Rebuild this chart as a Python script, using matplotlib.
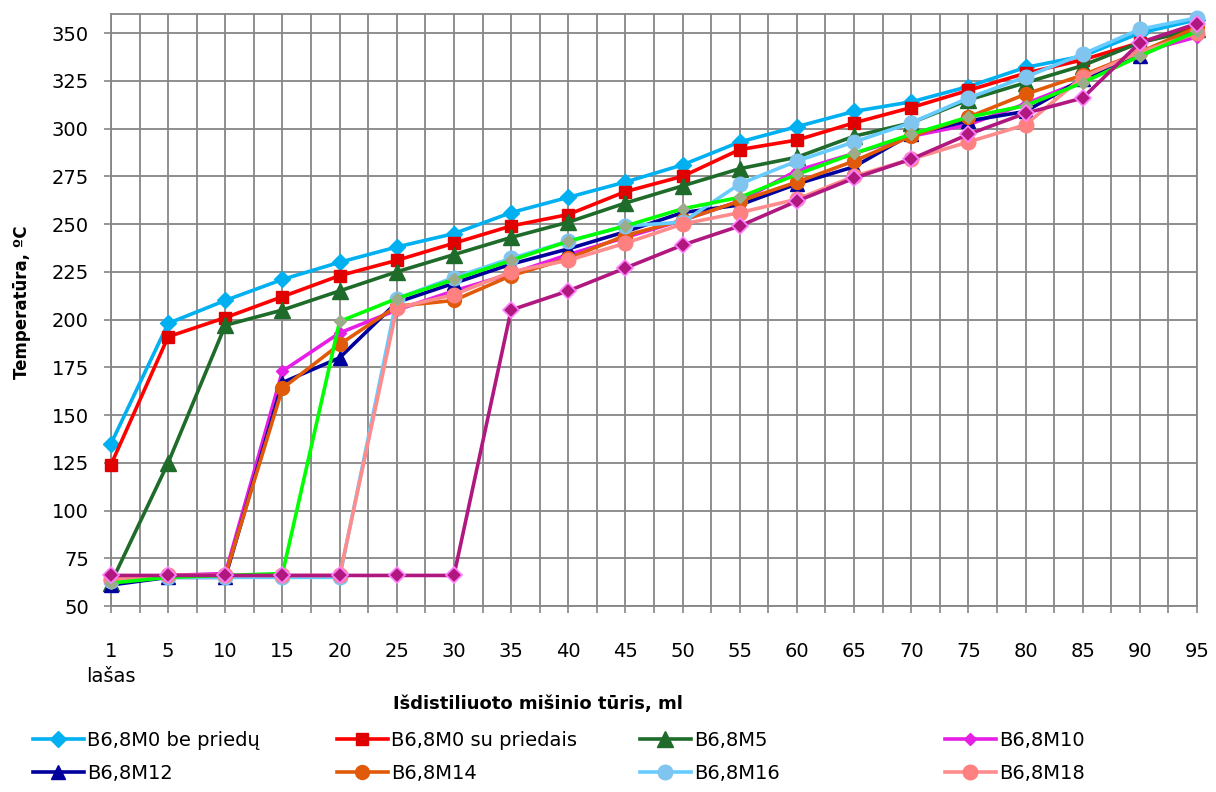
import matplotlib
matplotlib.use("Agg")
import matplotlib.pyplot as plt
import numpy as np

plt.rcParams['font.family'] = ['DejaVu Sans']

categories = ['1', '5', '10', '15', '20', '25', '30', '35', '40', '45',
              '50', '55', '60', '65', '70', '75', '80', '85', '90', '95']

m0_be = [135, 198, 210, 221, 230, 238, 245, 256, 264, 272, 281, 293, 301, 309, 314, 322, 332, 338, 350, 357]
m0_su = [124, 191, 201, 212, 223, 231, 240, 249, 255, 267, 275, 289, 294, 303, 311, 320, 329, 336, 345, 353]
m5 = [62, 125, 197, 205, 215, 225, 234, 243, 251, 261, 270, 279, 285, 296, 303, 315, 324, 333, 345, 352]
m10 = [65, 66, 67, 173, 193, 205, 215, 224, 234, 243, 252, 262, 278, 287, 296, 302, 313, 325, 340, 348]
m12 = [61, 65, 65, 167, 180, 209, 219, 229, 237, 246, 256, 260, 271, 280, 297, 304, 309, 326, 338, 352]
m14 = [64, 66, 66, 164, 187, 207, 210, 223, 232, 244, 252, 262, 272, 283, 296, 306, 318, 328, 340, 353]
m16 = [63, 65, 65, 65, 65, 211, 222, 232, 241, 249, 251, 271, 283, 293, 303, 316, 327, 339, 352, 358]
m18 = [64, 66, 66, 66, 66, 206, 213, 225, 231, 240, 250, 256, 263, 275, 284, 293, 302, 327, 340, 350]
m_green = [62, 65, 66, 67, 199, 211, 221, 231, 241, 249, 258, 264, 276, 287, 297, 306, 312, 324, 338, 351]
m_purple = [66, 66, 66, 66, 66, 66, 66, 205, 215, 227, 239, 249, 262, 274, 284, 297, 308, 316, 345, 355]

labels = ['B6,8M0 be priedų', 'B6,8M0 su priedais', 'B6,8M5', 'B6,8M10',
          'B6,8M12', 'B6,8M14', 'B6,8M16', 'B6,8M18']

fig = plt.figure(figsize=(12.16, 7.92), dpi=100)
ax = fig.add_axes([111/1216, 1-606/792, (1197-111)/1216, (606-14)/792])

x = np.arange(len(categories))
lw = 2.6
styles = [
    (m0_be, dict(color='#00B0F0', marker='D', ms=8.5, mfc='#00B0F0', mec='#00B0F0')),
    (m0_su, dict(color='#FF0000', marker='s', ms=8, mfc='#E00000', mec='#E00000')),
    (m5, dict(color='#1E6B2A', marker='^', ms=12, mfc='#1E6B2A', mec='#1E6B2A')),
    (m10, dict(color='#E61EE6', marker='D', ms=6.5, mfc='#E61EE6', mec='#E61EE6')),
    (m12, dict(color='#00009C', marker='^', ms=10, mfc='#00009C', mec='#00009C')),
    (m14, dict(color='#E05A0A', marker='o', ms=10, mfc='#E05A0A', mec='#E05A0A')),
    (m16, dict(color='#66CCFF', marker='o', ms=10.5, mfc='#80C4F0', mec='#80C4F0')),
    (m18, dict(color='#FF8C8C', marker='o', ms=10.5, mfc='#FF8080', mec='#FF8080')),
    (m_green, dict(color='#00FF00', marker='D', ms=6, mfc='#9CAB8A', mec='#9CAB8A')),
    (m_purple, dict(color='#B01880', marker='D', ms=8.5, mfc='#B01880', mec='#FF80FF', mew=1.2)),
]
handles = []
for i, (vals, st) in enumerate(styles):
    h, = ax.plot(x, vals, lw=lw, zorder=3 + i * 0.1, clip_on=False, **st)
    handles.append(h)

ax.set_xlim(0, len(categories) - 1)
ax.set_ylim(50, 360)
ax.set_yticks(np.arange(50, 351, 25))
ax.set_xticks(x)
xt = list(categories)
xt[0] = '1\nlašas'
ax.set_xticklabels(xt, fontsize=14, linespacing=1.4)
ax.set_xticks(np.arange(0.5, len(categories) - 1, 1), minor=True)
for lab in ax.get_xticklabels():
    lab.set_verticalalignment('top')
ax.tick_params(axis='x', which='both', direction='out', length=5, width=1.2,
               color='#868686', pad=21)
ax.tick_params(axis='y', which='both', direction='out', length=5, width=1.2,
               color='#868686', pad=11, labelsize=14)

gc = '#868686'
ax.grid(True, which='both', axis='x', color=gc, lw=1.3, zorder=1)
ax.grid(True, which='major', axis='y', color=gc, lw=1.3, zorder=1)
for s in ax.spines.values():
    s.set_color(gc)
    s.set_linewidth(1.3)

fig.text(538/1216, 1-704/792, 'Išdistiliuoto mišinio tūris, ml', ha='center', va='center',
         fontsize=13, fontweight='bold')
fig.text(22/1216, 1-302/792, 'Temperatūra, ºC', ha='center', va='center', rotation=90,
         fontsize=12, fontweight='bold')

col_x = [33, 337, 640, 945]
for c in range(4):
    lg = fig.legend([handles[c], handles[c + 4]], [labels[c], labels[c + 4]],
                    loc='upper left', bbox_to_anchor=(col_x[c]/1216, 1-731/792),
                    frameon=False, fontsize=14, handlelength=2.6, handletextpad=0.2,
                    labelspacing=0.7, borderaxespad=0, borderpad=0)

fig.savefig('out.png', dpi=100)
